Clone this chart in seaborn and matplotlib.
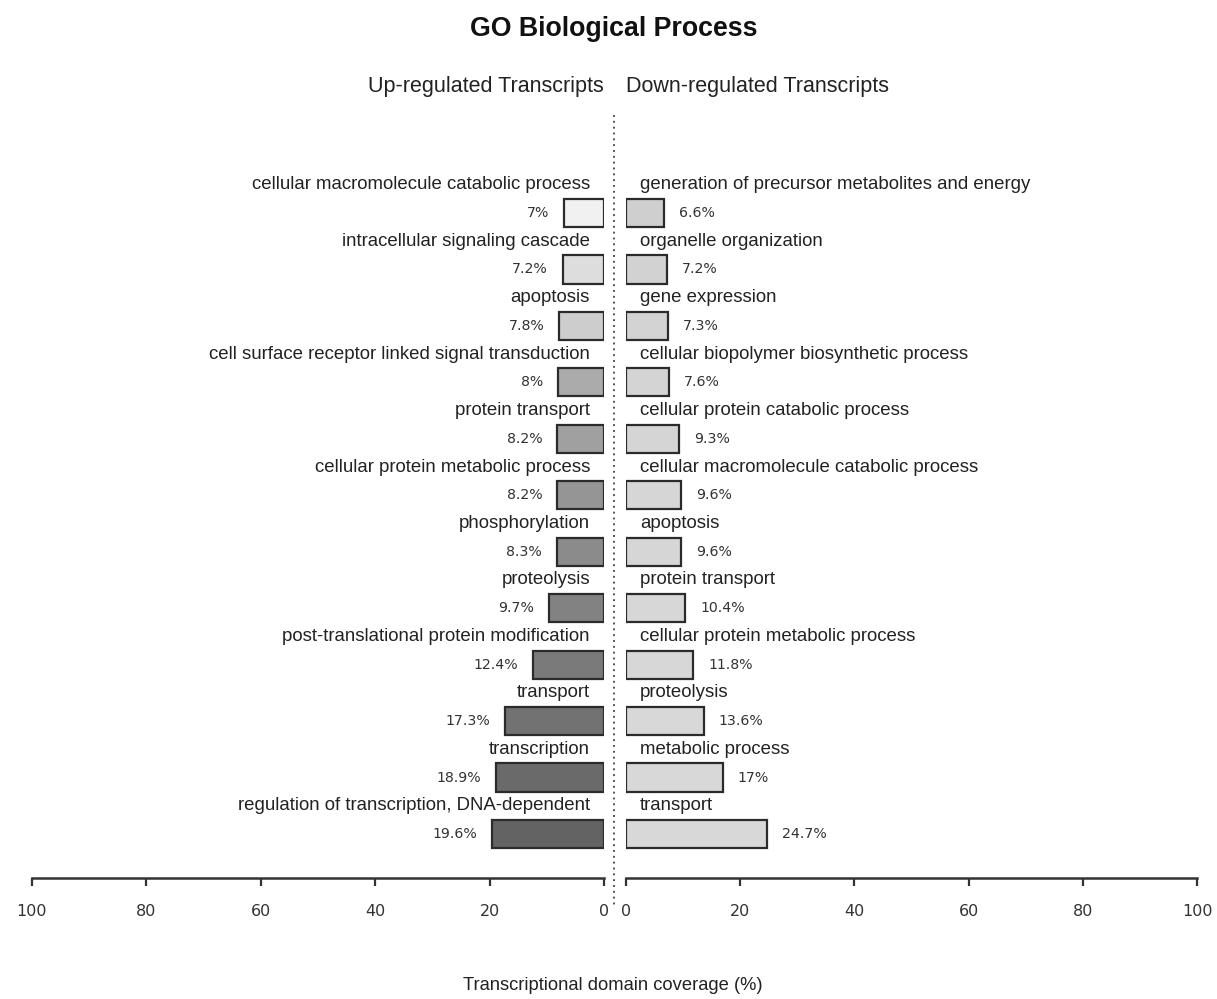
import matplotlib
matplotlib.use("Agg")
import matplotlib.pyplot as plt
from matplotlib.lines import Line2D
import seaborn as sns
import pandas as pd

# ---------------- data ----------------
up_terms = [
    "cellular macromolecule catabolic process",
    "intracellular signaling cascade",
    "apoptosis",
    "cell surface receptor linked signal transduction",
    "protein transport",
    "cellular protein metabolic process",
    "phosphorylation",
    "proteolysis",
    "post-translational protein modification",
    "transport",
    "transcription",
    "regulation of transcription, DNA-dependent",
]
up_values = [7, 7.2, 7.8, 8, 8.2, 8.2, 8.3, 9.7, 12.4, 17.3, 18.9, 19.6]
up_colors = ["#f1f1f1", "#dddddd", "#cdcdcd", "#ababab", "#a0a0a0", "#959595",
             "#8b8b8b", "#828282", "#7a7a7a", "#727272", "#6a6a6a", "#636363"]

down_terms = [
    "generation of precursor metabolites and energy",
    "organelle organization",
    "gene expression",
    "cellular biopolymer biosynthetic process",
    "cellular protein catabolic process",
    "cellular macromolecule catabolic process",
    "apoptosis",
    "protein transport",
    "cellular protein metabolic process",
    "proteolysis",
    "metabolic process",
    "transport",
]
down_values = [6.6, 7.2, 7.3, 7.6, 9.3, 9.6, 9.6, 10.4, 11.8, 13.6, 17, 24.7]
down_colors = ["#cfcfcf", "#d2d2d2", "#d3d3d3", "#d4d4d4", "#d5d5d5", "#d6d6d6",
               "#d6d6d6", "#d7d7d7", "#d7d7d7", "#d8d8d8", "#d8d8d8", "#d8d8d8"]

ticks = [0, 20, 40, 60, 80, 100]

# ---------------- style ----------------
sns.set_theme(style="white")
plt.rcParams["font.family"] = ["Liberation Sans", "DejaVu Sans"]

W, H = 1217, 999
fig = plt.figure(figsize=(W / 100, H / 100), dpi=100)


def px_axes(x0, x1, y0, y1):
    return fig.add_axes([x0 / W, 1 - y1 / H, (x1 - x0) / W, (y1 - y0) / H])


ax_up = px_axes(32, 604, 115, 878)
ax_dn = px_axes(626, 1197, 115, 878)

up_df = pd.DataFrame({"term": up_terms, "value": up_values})
dn_df = pd.DataFrame({"term": down_terms, "value": down_values})

sns.barplot(data=up_df, x="value", y="term", hue="term", orient="h",
            palette=dict(zip(up_terms, up_colors)), legend=False,
            width=0.5, edgecolor="#2b2b2b", linewidth=1.6, ax=ax_up)
sns.barplot(data=dn_df, x="value", y="term", hue="term", orient="h",
            palette=dict(zip(down_terms, down_colors)), legend=False,
            width=0.5, edgecolor="#2b2b2b", linewidth=1.6, ax=ax_dn)

label_kw = dict(fontsize=13.4, color="#222222", va="center")
pct_kw = dict(fontsize=10.2, color="#333333", va="center", family="DejaVu Sans")

for ax, terms, vals, side in [(ax_up, up_terms, up_values, "right"),
                              (ax_dn, down_terms, down_values, "left")]:
    for i, (t, v) in enumerate(zip(terms, vals)):
        ax.text(2.45, i - 0.5, t, ha=side, **label_kw)
        ax.text(v + 2.6, i, f"{v:g}%", ha=side, **pct_kw)

    ax.set_ylim(11.78, -1.736)
    ax.set_yticks([])
    ax.set_ylabel("")
    ax.set_xlabel("")
    ax.set_xticks(ticks)
    ax.set_xticklabels([str(t) for t in ticks], family="DejaVu Sans",
                       fontsize=11.5, color="#222222")
    ax.tick_params(axis="x", direction="out", length=6, width=1.6,
                   colors="#333333", pad=13, bottom=True)
    for s in ["left", "right", "top"]:
        ax.spines[s].set_visible(False)
    ax.spines["bottom"].set_color("#333333")
    ax.spines["bottom"].set_linewidth(1.8)
    ax.set_facecolor("none")

ax_up.set_xlim(100, 0)
ax_dn.set_xlim(0, 100)

# centre divider
fig.add_artist(Line2D([614 / W, 614 / W], [1 - 115 / H, 1 - 905 / H],
                      transform=fig.transFigure, color="#555555",
                      linestyle=(0, (1, 2)), linewidth=1.4))

fig.text(614 / W, 1 - 29 / H, "GO Biological Process", ha="center", va="center",
         fontsize=19.3, fontweight="bold", color="#111111")
fig.text(604 / W, 1 - 86 / H, "Up-regulated Transcripts", ha="right", va="center",
         fontsize=15.5, color="#222222")
fig.text(626 / W, 1 - 86 / H, "Down-regulated Transcripts", ha="left", va="center",
         fontsize=15.5, color="#222222")
fig.text(613 / W, 1 - 985 / H, "Transcriptional domain coverage (%)", ha="center",
         va="center", fontsize=13.2, color="#222222")

fig.savefig("out.png", dpi=100, facecolor="white")
